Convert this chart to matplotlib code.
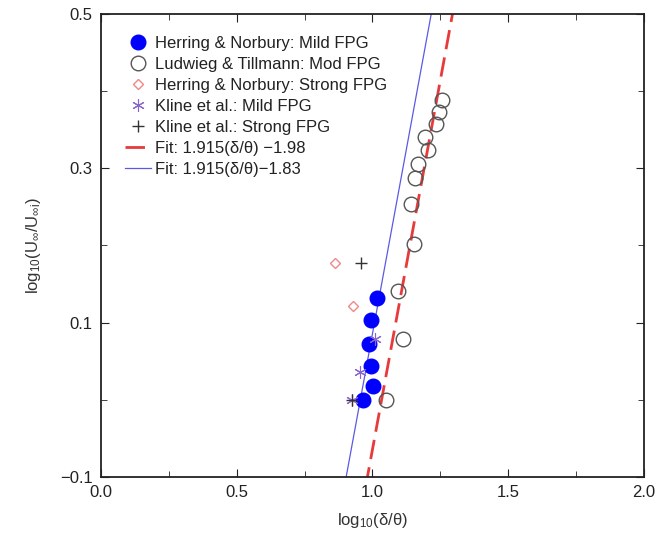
import numpy as np
import matplotlib.pyplot as plt
from matplotlib.ticker import MultipleLocator

plt.rcParams['font.family'] = ['Liberation Sans', 'DejaVu Sans']
plt.rcParams['mathtext.fontset'] = 'custom'
plt.rcParams['mathtext.rm'] = 'Liberation Sans'
plt.rcParams['mathtext.it'] = 'Liberation Sans'

# Herring & Norbury: Mild FPG
hn_mild_x = [1.017, 0.993, 0.987, 0.994, 1.001, 0.966]
hn_mild_y = [0.132, 0.103, 0.072, 0.044, 0.018, 0.000]

# Ludwieg & Tillmann: Mod FPG
lt_x = [1.255, 1.246, 1.234, 1.193, 1.203, 1.169, 1.157, 1.144, 1.154, 1.095, 1.113, 1.050]
lt_y = [0.388, 0.373, 0.357, 0.340, 0.324, 0.306, 0.287, 0.254, 0.202, 0.141, 0.079, 0.000]

# Herring & Norbury: Strong FPG
hn_strong_x = [0.862, 0.929]
hn_strong_y = [0.177, 0.121]

# Kline et al.: Mild FPG
kl_mild_x = [1.009, 0.954, 0.925]
kl_mild_y = [0.079, 0.036, 0.000]

# Kline et al.: Strong FPG
kl_strong_x = [0.958, 0.923]
kl_strong_y = [0.177, 0.000]

# fits
slope = 1.915
icpt_red = -1.98
icpt_blue = -1.83

x_ticks = [0.0, 0.5, 1.0, 1.5, 2.0]
x_ticklabels = ['0.0', '0.5', '1.0', '1.5', '2.0']
y_ticks = [-0.1, 0.1, 0.3, 0.5]
y_ticklabels = ['\u22120.1', '0.1', '0.3', '0.5']

fig = plt.figure(figsize=(6.71, 5.40), dpi=100)
ax = fig.add_axes([0.1505, 0.117, 0.809, 0.857])

xx = np.linspace(0.0, 2.0, 400)
ax.plot(hn_mild_x, hn_mild_y, 'o', color='#0000ff', markersize=10.5, label='Herring & Norbury: Mild FPG', zorder=3)
ax.plot(lt_x, lt_y, 'o', mfc='none', mec='#555555', mew=1.0, markersize=10.5, label='Ludwieg & Tillmann: Mod FPG', zorder=3)
ax.plot(hn_strong_x, hn_strong_y, 'D', mfc='none', mec='#f08888', mew=1.0, markersize=5.5, label='Herring & Norbury: Strong FPG', zorder=3)
ax.plot(kl_mild_x, kl_mild_y, linestyle='none', color='#8866cc', markersize=9, mew=0.8, marker=(6, 2, 0), label='Kline et al.: Mild FPG', zorder=4)
ax.plot(kl_strong_x, kl_strong_y, '+', color='#333333', markersize=8, mew=1.0, label='Kline et al.: Strong FPG', zorder=4)
ax.plot(xx, slope * xx + icpt_red, '--', color='#e83a3a', lw=2.0, dashes=(7, 3), label='Fit: 1.915(δ/θ) \u22121.98', zorder=2)
ax.plot(xx, slope * xx + icpt_blue, '-', color='#5a5ae6', lw=0.9, label='Fit: 1.915(δ/θ)\u22121.83', zorder=2)

ax.set_xlim(0.0, 2.0)
ax.set_ylim(-0.1, 0.5)
ax.set_xticks(x_ticks)
ax.set_xticklabels(x_ticklabels)
ax.xaxis.set_minor_locator(MultipleLocator(0.25))
ax.set_yticks(y_ticks)
ax.set_yticklabels(y_ticklabels)
ax.yaxis.set_minor_locator(MultipleLocator(0.1))
ax.tick_params(which='both', direction='in', top=True, right=True, labelsize=12, colors='#222222')
ax.tick_params(which='major', length=6, pad=6)
ax.tick_params(which='minor', length=4)
for s in ax.spines.values():
    s.set_linewidth(1.3)
    s.set_color('#222222')

ax.set_xlabel(r'log$_{10}$($\delta$/$\theta$)', fontsize=12, color='#333333', labelpad=8)
ax.set_ylabel(r'log$_{10}$(U$_{\infty}$/U$_{\infty i}$)', fontsize=12, color='#333333', labelpad=12)

ax.legend(loc='upper left', bbox_to_anchor=(0.025, 0.975), frameon=False, fontsize=12,
          handlelength=1.6, handletextpad=0.25, labelspacing=0.36, borderaxespad=0.2,
          labelcolor='#222222')

fig.savefig('out.png', dpi=100)
